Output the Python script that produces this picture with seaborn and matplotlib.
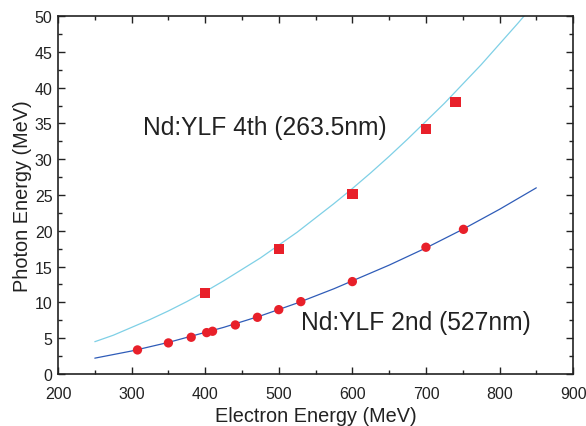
import numpy as np
import pandas as pd
import matplotlib
matplotlib.use('Agg')
import matplotlib.pyplot as plt
import seaborn as sb
from matplotlib.ticker import MultipleLocator

sb.set_style('ticks')
plt.rcParams['font.family'] = ['Liberation Sans', 'DejaVu Sans']

# measured points
e2_x = [308, 350, 381, 402, 410, 441, 471, 500, 530, 600, 700, 751]
e2_y = [3.35, 4.33, 5.12, 5.77, 5.96, 6.84, 7.91, 8.98, 10.1, 12.9, 17.7, 20.2]
e4_x = [400, 500, 600, 700, 740]
e4_y = [11.3, 17.5, 25.1, 34.2, 38.0]

# curves
c2x = [250, 275, 300, 325, 350, 375, 400, 425, 450, 475, 500, 525, 550,
       575, 600, 625, 650, 675, 700, 725, 750, 775, 800, 825, 850]
c2_y = [2.2, 2.7, 3.2, 3.8, 4.4, 5.1, 5.8, 6.5, 7.3, 8.1, 9.0, 9.9, 10.9,
        11.9, 13.0, 14.1, 15.2, 16.4, 17.6, 18.9, 20.2, 21.6, 23.0, 24.5, 26.0]
c4x = [250, 275, 300, 325, 350, 375, 400, 425, 450, 475, 500, 525, 550,
       575, 600, 625, 650, 675, 700, 725, 750, 775, 800, 825, 835]
c4_y = [4.5, 5.4, 6.5, 7.6, 8.8, 10.1, 11.5, 13.0, 14.6, 16.2, 18.0, 19.8, 21.8,
        23.8, 25.9, 28.1, 30.4, 32.8, 35.3, 37.8, 40.5, 43.2, 46.1, 49.0, 50.2]

fig = plt.figure(figsize=(5.86, 4.27), dpi=100)
ax = fig.add_axes([0.099, 0.122, 0.879, 0.838])

sb.lineplot(x=c4x, y=c4_y, color='#7fd0e6', lw=0.9, ax=ax)
sb.lineplot(x=c2x, y=c2_y, color='#2f5cb8', lw=0.9, ax=ax)
sb.scatterplot(x=e4_x, y=e4_y, marker='s', s=55, color='#e8202a', edgecolor='none', ax=ax, zorder=3)
sb.scatterplot(x=e2_x, y=e2_y, marker='o', s=45, color='#e8202a', edgecolor='none', ax=ax, zorder=3)

ax.set_xlim(200, 900)
ax.set_ylim(0, 50)
ax.xaxis.set_major_locator(MultipleLocator(100))
ax.xaxis.set_minor_locator(MultipleLocator(50))
ax.yaxis.set_major_locator(MultipleLocator(5))
ax.yaxis.set_minor_locator(MultipleLocator(2.5))
ax.tick_params(which='both', direction='in', top=True, right=True, labelsize=11.5,
               color='#222222', labelcolor='#222222')
ax.tick_params(which='major', length=5, width=1)
ax.tick_params(which='minor', length=3, width=1)
ax.tick_params(axis='x', pad=9)
ax.tick_params(axis='y', pad=4)
for s in ax.spines.values():
    s.set_linewidth(1.2)
    s.set_color('#222222')

ax.set_xlabel('Electron Energy (MeV)', fontsize=14.3, labelpad=3, color='#222222')
ax.set_ylabel('Photon Energy (MeV)', fontsize=14.3, labelpad=2, color='#222222')

ax.text(316, 34.5, 'Nd:YLF 4th (263.5nm)', fontsize=17.7, va='center', color='#222222')
ax.text(530, 7.3, 'Nd:YLF 2nd (527nm)', fontsize=17.7, va='center', color='#222222')

fig.savefig('out.png', dpi=100)
